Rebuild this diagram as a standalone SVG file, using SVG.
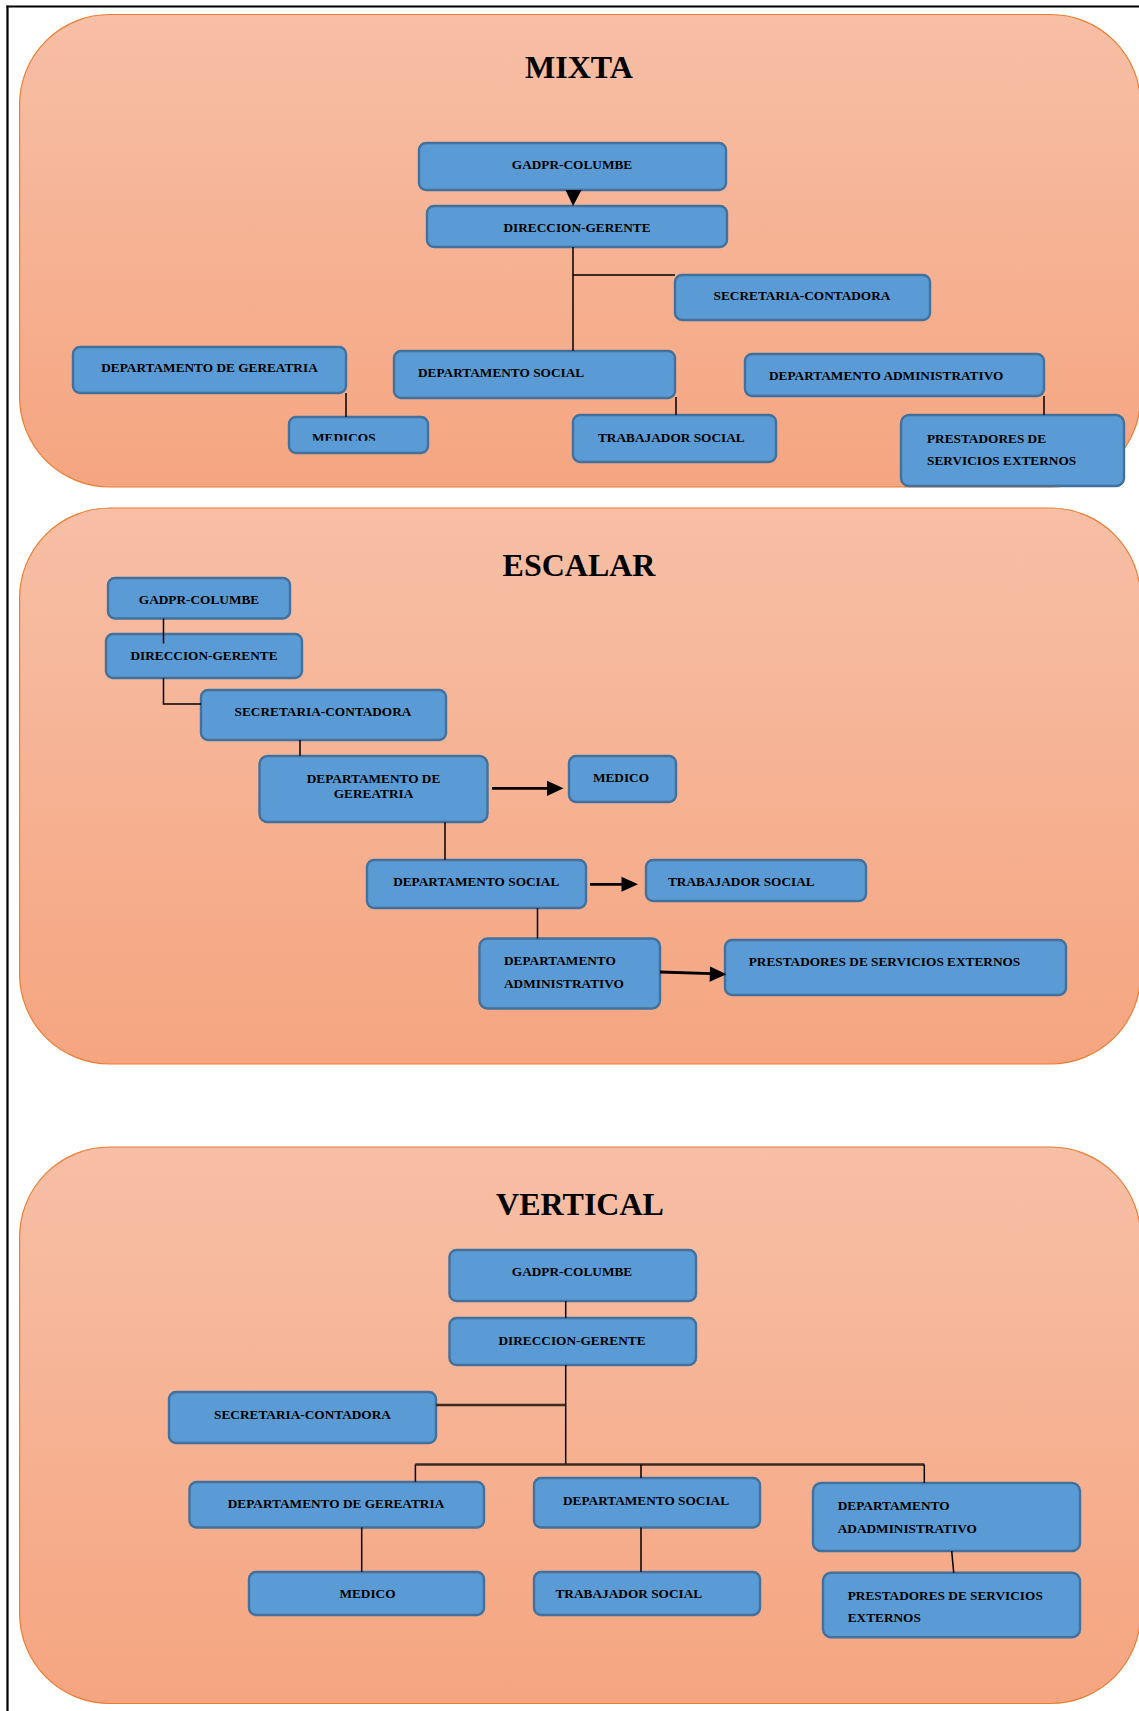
<svg xmlns="http://www.w3.org/2000/svg" width="1139" height="1711" viewBox="0 0 1139 1711">
<defs>
<linearGradient id="pg" x1="0" y1="0" x2="0" y2="1">
<stop offset="0" stop-color="#F7BFA6"/>
<stop offset="1" stop-color="#F5A580"/>
</linearGradient>
<clipPath id="clipMed"><rect x="280" y="410" width="160" height="30.8"/></clipPath>
<style>
.panel{fill:url(#pg);stroke:#ED7D31;stroke-width:1.2}
.node{fill:#5B9BD5;stroke:#41719C;stroke-width:2.4}
.t{font-family:"Liberation Serif","Times New Roman",serif;font-weight:bold;font-size:13.3px;fill:#000}
.c{text-anchor:middle}
.title{font-family:"Liberation Serif","Times New Roman",serif;font-weight:bold;font-size:32px;fill:#000;text-anchor:middle}
.ln{stroke:#000;stroke-width:1.5;fill:none}
.bus{stroke:#3a2a22;stroke-width:2.4;fill:none}
.arr{stroke:#000;stroke-width:2.8;fill:none}
.head{fill:#000}
</style>
</defs>
<rect width="1139" height="1711" fill="#fff"/>
<g id="frame">
<line x1="6.5" y1="6.5" x2="1139" y2="6.5" stroke="#000" stroke-width="2.2"/>
<line x1="7.5" y1="5.5" x2="7.5" y2="1711" stroke="#000" stroke-width="2.2"/>
</g>
<g id="panels">
<rect class="panel" x="19.6" y="14.5" width="1121" height="472.5" rx="90" ry="90"/>
<rect class="panel" x="19.6" y="508" width="1121" height="556" rx="90" ry="90"/>
<rect class="panel" x="19.6" y="1147" width="1121" height="556.5" rx="90" ry="90"/>
</g>
<g id="titles">
<text class="title" x="579" y="78">MIXTA</text>
<text class="title" x="579" y="576">ESCALAR</text>
<text class="title" x="580" y="1215">VERTICAL</text>
</g>

<!-- MIXTA -->
<g id="m-gadpr"><rect class="node" x="419" y="143" width="307" height="47" rx="7"/><text class="t c" x="572" y="169">GADPR-COLUMBE</text></g>
<g id="m-direccion"><rect class="node" x="427" y="206" width="300" height="41" rx="7"/><text class="t c" x="577" y="232">DIRECCION-GERENTE</text></g>
<g id="m-secretaria"><rect class="node" x="675" y="275" width="255" height="45" rx="7"/><text class="t c" x="802" y="300">SECRETARIA-CONTADORA</text></g>
<g id="m-geriatria"><rect class="node" x="73" y="347" width="273" height="46" rx="7"/><text class="t c" x="209.5" y="372">DEPARTAMENTO DE GEREATRIA</text></g>
<g id="m-social"><rect class="node" x="394" y="351" width="281" height="47" rx="7"/><text class="t" x="418" y="377">DEPARTAMENTO SOCIAL</text></g>
<g id="m-admin"><rect class="node" x="745" y="354" width="299" height="42" rx="7"/><text class="t" x="769" y="380">DEPARTAMENTO ADMINISTRATIVO</text></g>
<g id="m-medicos"><rect class="node" x="289" y="417" width="139" height="36" rx="7"/><text class="t" x="312" y="441.5" clip-path="url(#clipMed)">MEDICOS</text></g>
<g id="m-trabajador"><rect class="node" x="573" y="415" width="203" height="47" rx="7"/><text class="t" x="598" y="442">TRABAJADOR SOCIAL</text></g>
<g id="m-prestadores"><rect class="node" x="901" y="415" width="223" height="71" rx="8"/><text class="t" x="927" y="443">PRESTADORES DE</text><text class="t" x="927" y="465">SERVICIOS EXTERNOS</text></g>

<!-- ESCALAR -->
<g id="e-gadpr"><rect class="node" x="108" y="578" width="182" height="40.5" rx="7"/><text class="t c" x="199" y="603.5">GADPR-COLUMBE</text></g>
<g id="e-direccion"><rect class="node" x="106" y="634" width="196" height="44" rx="7"/><text class="t c" x="204" y="660">DIRECCION-GERENTE</text></g>
<g id="e-secretaria"><rect class="node" x="201" y="690" width="245" height="50" rx="7"/><text class="t c" x="323" y="715.7">SECRETARIA-CONTADORA</text></g>
<g id="e-geriatria"><rect class="node" x="259.5" y="756" width="228" height="66" rx="8"/><text class="t c" x="373.5" y="782.7">DEPARTAMENTO DE</text><text class="t c" x="373.5" y="797.7">GEREATRIA</text></g>
<g id="e-medico"><rect class="node" x="569" y="756" width="107" height="46" rx="7"/><text class="t c" x="621" y="782">MEDICO</text></g>
<g id="e-social"><rect class="node" x="367" y="860" width="219" height="48" rx="7"/><text class="t c" x="476.2" y="886">DEPARTAMENTO SOCIAL</text></g>
<g id="e-trabajador"><rect class="node" x="646" y="860" width="220" height="41" rx="7"/><text class="t" x="668" y="886">TRABAJADOR SOCIAL</text></g>
<g id="e-admin"><rect class="node" x="479.5" y="938.5" width="180.5" height="70" rx="8"/><text class="t" x="504" y="965">DEPARTAMENTO</text><text class="t" x="504" y="987.7">ADMINISTRATIVO</text></g>
<g id="e-prestadores"><rect class="node" x="725" y="940" width="341" height="55" rx="7"/><text class="t" x="748.7" y="965.5">PRESTADORES DE SERVICIOS EXTERNOS</text></g>

<!-- VERTICAL -->
<g id="v-gadpr"><rect class="node" x="449.5" y="1250" width="246.5" height="51" rx="7"/><text class="t c" x="572" y="1276">GADPR-COLUMBE</text></g>
<g id="v-direccion"><rect class="node" x="449.5" y="1318" width="246.5" height="47" rx="7"/><text class="t c" x="572" y="1345">DIRECCION-GERENTE</text></g>
<g id="v-secretaria"><rect class="node" x="169" y="1392" width="267" height="51" rx="7"/><text class="t c" x="302.5" y="1419">SECRETARIA-CONTADORA</text></g>
<g id="v-geriatria"><rect class="node" x="189.5" y="1482" width="294.5" height="45.5" rx="7"/><text class="t c" x="336" y="1508">DEPARTAMENTO DE GEREATRIA</text></g>
<g id="v-social"><rect class="node" x="534" y="1478" width="226" height="49.5" rx="7"/><text class="t c" x="646" y="1505">DEPARTAMENTO SOCIAL</text></g>
<g id="v-admin"><rect class="node" x="813" y="1483" width="267" height="68" rx="8"/><text class="t" x="837.7" y="1510">DEPARTAMENTO</text><text class="t" x="837.7" y="1532.7">ADADMINISTRATIVO</text></g>
<g id="v-medico"><rect class="node" x="249" y="1572" width="235" height="43" rx="7"/><text class="t c" x="367.5" y="1597.6">MEDICO</text></g>
<g id="v-trabajador"><rect class="node" x="534" y="1572" width="226" height="43" rx="7"/><text class="t" x="555.5" y="1597.6">TRABAJADOR SOCIAL</text></g>
<g id="v-prestadores"><rect class="node" x="823" y="1572.7" width="257" height="64.6" rx="8"/><text class="t" x="847.7" y="1600">PRESTADORES DE SERVICIOS</text><text class="t" x="847.7" y="1621.7">EXTERNOS</text></g>

<g id="connectors">
<!-- MIXTA -->
<polygon class="head" points="565.5,190 581.5,190 573,206"/>
<line class="ln" x1="573" y1="247" x2="573" y2="351"/>
<line class="ln" x1="573" y1="275" x2="675" y2="275"/>
<line class="ln" x1="346" y1="393" x2="346" y2="417"/>
<line class="ln" x1="676" y1="397" x2="676" y2="415"/>
<line class="ln" x1="1044" y1="396" x2="1044" y2="415"/>
<!-- ESCALAR -->
<line class="ln" x1="163.5" y1="618.5" x2="163.5" y2="643.5"/>
<polyline class="ln" points="163.5,678 163.5,704 201,704"/>
<line class="ln" x1="300" y1="740" x2="300" y2="756"/>
<line class="ln" x1="445" y1="822" x2="445" y2="860"/>
<line class="ln" x1="537.5" y1="908" x2="537.5" y2="938.5"/>
<line class="arr" x1="492" y1="788.3" x2="549" y2="788.3"/>
<polygon class="head" points="547,780.7 563.5,788.3 547,796"/>
<line class="arr" x1="590" y1="884.3" x2="623" y2="884.3"/>
<polygon class="head" points="621.5,876.7 638,884.3 621.5,891.7"/>
<line class="arr" x1="660" y1="972" x2="712" y2="973.6"/>
<polygon class="head" points="710,966.5 726.5,974.3 709.6,981.7"/>
<!-- VERTICAL -->
<line class="ln" x1="565.7" y1="1301" x2="565.7" y2="1318"/>
<line class="ln" x1="565.7" y1="1365" x2="565.7" y2="1464.5"/>
<line class="bus" x1="436" y1="1405" x2="565.7" y2="1405"/>
<line class="bus" x1="415.4" y1="1464.5" x2="924.3" y2="1464.5"/>
<line class="ln" x1="415.4" y1="1464.5" x2="415.4" y2="1482"/>
<line class="ln" x1="641" y1="1464.5" x2="641" y2="1478"/>
<line class="ln" x1="924.3" y1="1464.5" x2="924.3" y2="1483"/>
<line class="ln" x1="361.7" y1="1527.5" x2="361.7" y2="1572"/>
<line class="ln" x1="641" y1="1527.5" x2="641" y2="1572"/>
<line class="ln" x1="951.7" y1="1551" x2="953.7" y2="1572.7"/>
</g>
</svg>
